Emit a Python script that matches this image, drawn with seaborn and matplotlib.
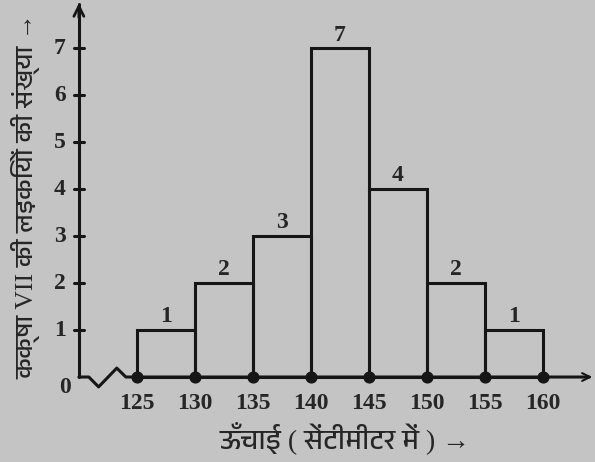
import matplotlib
matplotlib.use('Agg')
import matplotlib.pyplot as plt
from matplotlib import font_manager
import seaborn as sns

# Data: heights of class VII girls
bin_edges = [125, 130, 135, 140, 145, 150, 155, 160]
counts = [1, 2, 3, 7, 4, 2, 1]
y_ticks = [0, 1, 2, 3, 4, 5, 6, 7]
x_label = 'ऊँचाई ( सेंटीमीटर में ) →'
y_label = 'कक्षा VII की लड़कियों की संख्या →'

sns.set_style('white')
# a font that has Devanagari glyphs
names = set(f.name for f in font_manager.fontManager.ttflist)
deva = sorted(n for n in names if 'Devanagari' in n or 'Lohit' in n or 'FreeSerif' in n)
plt.rcParams['font.family'] = ['Liberation Serif'] + deva + ['DejaVu Sans']

ink = '#161616'
bg = '#c4c4c4'
fig = plt.figure(figsize=(5.95, 4.62), dpi=100, facecolor=bg)
ax = fig.add_axes([0, 0, 1, 1])
ax.set_facecolor(bg)

mids = [(a + b) / 2 for a, b in zip(bin_edges[:-1], bin_edges[1:])]
sns.histplot(x=mids, weights=counts, bins=bin_edges, fill=False,
             color=ink, linewidth=2.2, ax=ax)

ax.set_xlim(113.2, 164.5)
ax.set_ylim(-1.81, 8.03)
for s in ax.spines.values():
    s.set_visible(False)
ax.set_xticks([])
ax.set_yticks([])
ax.set_xlabel('')
ax.set_ylabel('')

# axes with arrows
ax.plot([120, 120], [0, 7.95], color=ink, lw=2.2, clip_on=False)
ax.annotate('', xy=(120, 8.02), xytext=(120, 7.6),
            arrowprops=dict(arrowstyle='->', color=ink, lw=2, mutation_scale=18))
# zigzag break on the x axis
ax.plot([120, 120.86, 121.7, 123.27, 124.05, 164.0],
        [0, 0, -0.21, 0.19, 0, 0], color=ink, lw=2.2, clip_on=False)
ax.annotate('', xy=(164.5, 0), xytext=(163.5, 0),
            arrowprops=dict(arrowstyle='->', color=ink, lw=1.5, mutation_scale=14))

# dots at class boundaries
ax.scatter(bin_edges, [0] * len(bin_edges), s=60, color=ink, zorder=5)

# ticks on y axis
for t in y_ticks[1:]:
    ax.plot([119.6, 120.4], [t, t], color=ink, lw=2.2)
    ax.text(118.35, t, str(t), ha='center', va='center', fontsize=17, fontweight='bold')
ax.text(118.8, -0.23, '0', ha='center', va='center', fontsize=17, fontweight='bold')
for e in bin_edges:
    ax.text(e, -0.57, str(e), ha='center', va='center', fontsize=17, fontweight='bold')

# values above bars
for m, c in zip(mids, counts):
    ax.text(m, c + 0.06, str(c), ha='center', va='bottom', fontsize=17, fontweight='bold')

fig.text(345 / 595, 1 - 438 / 462, x_label, ha='center', va='center', fontsize=20)
fig.text(26 / 595, 1 - 196 / 462, y_label, ha='center', va='center', fontsize=18.5,
         rotation=90)

fig.savefig('out.png', dpi=100, facecolor=bg)
